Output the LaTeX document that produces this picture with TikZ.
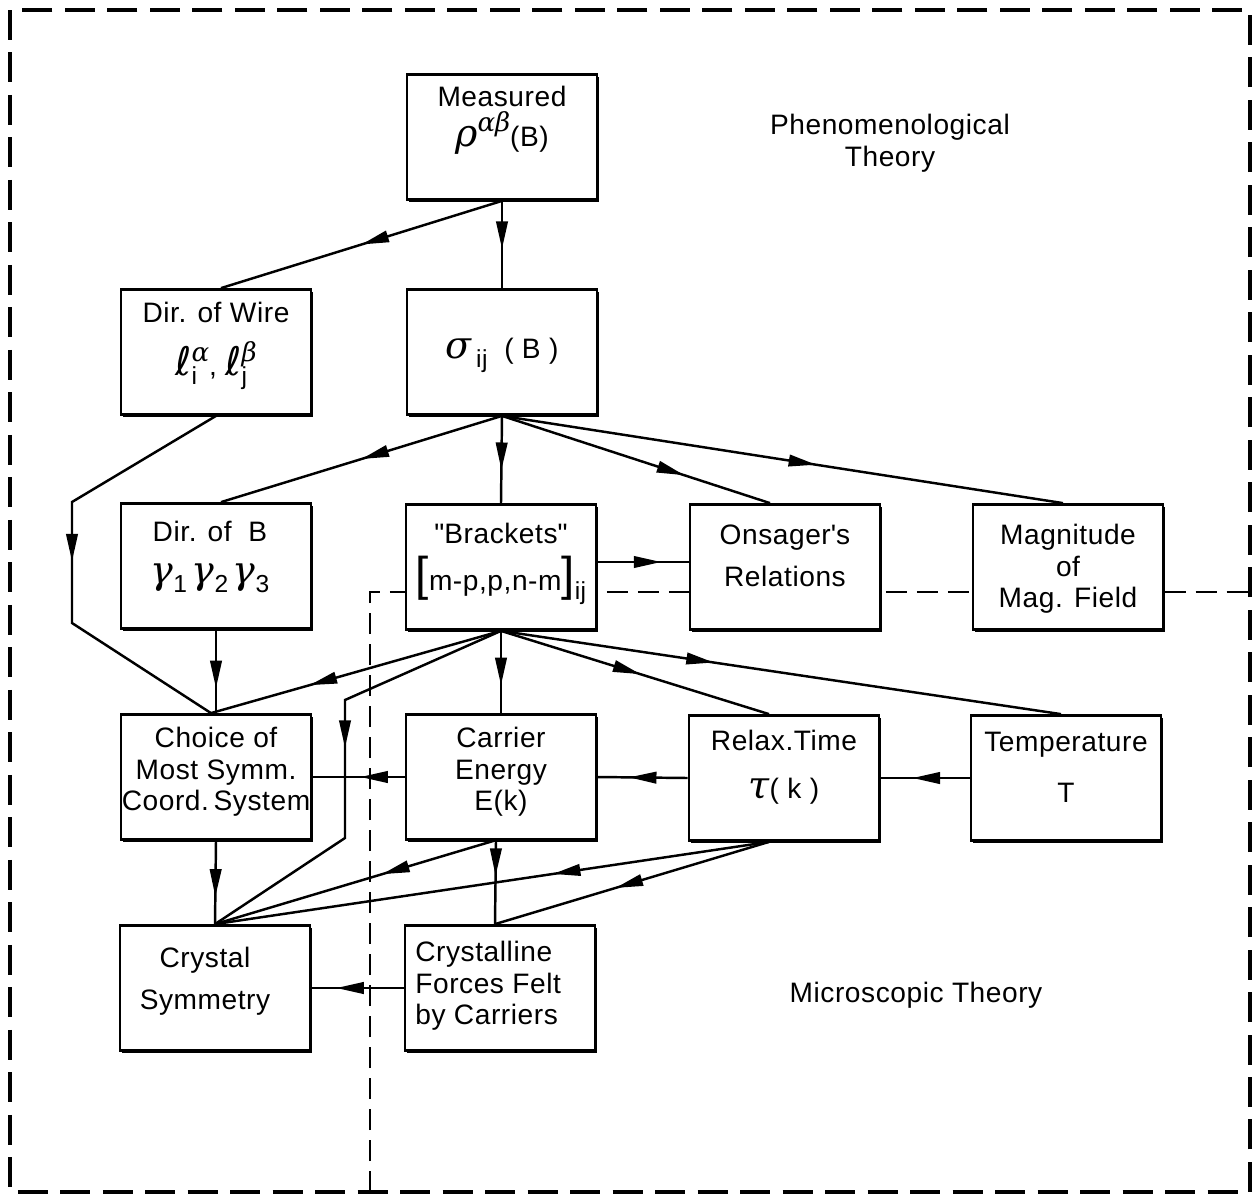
\documentclass[tikz,border=0pt]{standalone}
\usepackage{fontspec}
\setmainfont{Liberation Sans}[LetterSpace=2]
\newfontfamily\grk{DejaVu Serif}[Scale=1.35]
\newfontfamily\ellfont{DejaVu Sans}[Scale=1.4]
\newcommand{\gk}[1]{{\grk\itshape #1}}
\newcommand{\upscr}[1]{\raisebox{0.5em}{\fontsize{11}{11}\selectfont #1}}
\newcommand{\dnscr}[1]{\raisebox{-0.32em}{\fontsize{14}{14}\selectfont #1}}
\usetikzlibrary{arrows.meta, decorations.markings, shadows}

\begin{document}
\begin{tikzpicture}[x=0.02cm, y=-0.02cm,
    font=\fontsize{16}{18}\selectfont,
    box/.style={draw, line width=1.6pt, fill=white, minimum width=3.8cm, minimum height=2.5cm,
      drop shadow={shadow xshift=1.3pt, shadow yshift=-1.6pt, opacity=1, fill=black}},
    txt/.style={align=center, inner sep=0pt},
    midarrow/.style={line width=1.4pt, postaction={decorate}, decoration={markings,
      mark=at position #1 with {\arrow{Triangle[length=5.5mm, width=2.3mm]}}}},
    midarrow/.default=0.5,
    frame/.style={line width=1.8pt, dash pattern=on 0.6cm off 0.25cm},
  ]

  \useasboundingbox (0,0) rectangle (1252,1201);

  % the two regions
  \draw[frame] (10,10) rectangle (1250,1192);
  \draw[frame, line width=1.4pt, dash pattern=on 0.42cm off 0.2cm] (370,1192) |- (1250,592);

  \node[txt] (phen) at (890,143) {Phenomenological\\Theory};
  \node[txt] (micro) at (916,995) {Microscopic Theory};

  % boxes
  \node[box] (meas) at (502,137) {};
  \node[box] (wire) at (216,352) {};
  \node[box] (sig) at (502,352) {};
  \node[box] (dirB) at (216,566) {};
  \node[box] (brack) at (501,567) {};
  \node[box] (ons) at (785,567) {};
  \node[box] (mag) at (1068,567) {};
  \node[box] (choice) at (216,777) {};
  \node[box] (carrier) at (501,777) {};
  \node[box] (relax) at (784,778) {};
  \node[box] (temp) at (1066,778) {};
  \node[box] (crys) at (215,988) {};
  \node[box] (forces) at (500,988) {};

  \node[txt] (measT) at (502,120) {Measured\\[2pt]\gk{ρ}\upscr{\gk{αβ}}(B)};
  \node[txt] (wireT) at (216,346) {Dir. of Wire\\[10pt]{\ellfont ℓ}\rlap{\dnscr{i}}\upscr{\gk{α}},\ {\ellfont ℓ}\rlap{\dnscr{j}}\upscr{\gk{β}}};
  \node[txt] (sigT) at (502,355) {\gk{σ}\,\dnscr{ij}\ \ ( B )};
  \node[txt] (dirBT) at (210,557) {Dir. of \ B\\[6pt]\gk{γ}\dnscr{1}\,\gk{γ}\dnscr{2}\,\gk{γ}\dnscr{3}};
  \node[txt] (brackT) at (501,564) {\textquotedbl Brackets\textquotedbl\\[6pt]{\fontsize{27}{27}\selectfont[}m-p,p,n-m{\fontsize{27}{27}\selectfont]}\dnscr{ij}};
  \node[txt] (onsT) at (785,556) {Onsager\textquotesingle s\\[6pt]Relations};
  \node[txt] (magT) at (1068,569) {Magnitude\\of\\Mag. Field};
  \node[txt] (choiceT) at (216,772) {Choice of\\Most Symm.\\Coord.\,System};
  \node[txt] (carrierT) at (501,772) {Carrier\\Energy\\E(k)};
  \node[txt] (relaxT) at (784,767) {Relax.Time\\[9pt]\gk{τ}( k )};
  \node[txt] (tempT) at (1066,767) {Temperature\\[11pt]T};
  \node[txt] (crysT) at (205,981) {Crystal\\[6pt]Symmetry};
  \node[txt, align=left, anchor=west] (forcesT) at (415,986) {Crystalline\\Forces Felt\\by Carriers};

  % connections
  \draw[midarrow=0.55] (meas.south) -- (sig.north);
  \draw[midarrow=0.5] (meas.south) -- ([xshift=0.1cm]wire.north);
  \coordinate (wbend1) at (72,502);
  \coordinate (wbend2) at (72,623);
  \draw[midarrow=0.5] (wire.south) -- (wbend1) -- (wbend2) -- ([xshift=-0.1cm]choice.north);
  \draw[midarrow=0.5] (sig.south) -- ([xshift=0.1cm]dirB.north);
  \draw[midarrow=0.62] (sig.south) -- (brack.north);
  \draw[midarrow=0.68] (sig.south) -- ([xshift=-0.3cm]ons.north);
  \draw[midarrow=0.56] (sig.south) -- ([xshift=-0.1cm]mag.north);
  \draw[midarrow=0.7] ([yshift=0.1cm]brack.east) -- ([yshift=0.1cm]ons.west);
  \draw[midarrow=0.7] (dirB.south) -- (choice.north);
  \draw[midarrow=0.66] (brack.south) -- ([xshift=-0.1cm]choice.north);
  \coordinate (bbend1) at (345,700);
  \coordinate (bbend2) at (345,838);
  \draw[midarrow=0.47] (brack.south) -- (bbend1) -- (bbend2) -- (crys.north);
  \draw[midarrow=0.66] (brack.south) -- (carrier.north);
  \draw[midarrow=0.52] (brack.south) -- ([xshift=-0.3cm]relax.north);
  \draw[midarrow=0.38] (brack.south) -- ([xshift=-0.1cm]temp.north);
  \draw[midarrow=0.48] (carrier.west) -- (choice.east);
  \draw[midarrow=0.65] (relax.west) -- (carrier.east);
  \draw[midarrow=0.64] (temp.west) -- (relax.east);
  \draw[midarrow=0.67] (choice.south) -- (crys.north);
  \draw[midarrow=0.4] ([xshift=-0.15cm]carrier.south) -- (crys.north);
  \draw[midarrow=0.42] ([xshift=-0.1cm]carrier.south) -- ([xshift=-0.1cm]forces.north);
  \draw[midarrow=0.39] ([xshift=-0.3cm]relax.south) -- (crys.north);
  \draw[midarrow=0.56] ([xshift=-0.3cm]relax.south) -- ([xshift=-0.1cm]forces.north);
  \draw[midarrow=0.73] (forces.west) -- (crys.east);

\end{tikzpicture}
\end{document}
